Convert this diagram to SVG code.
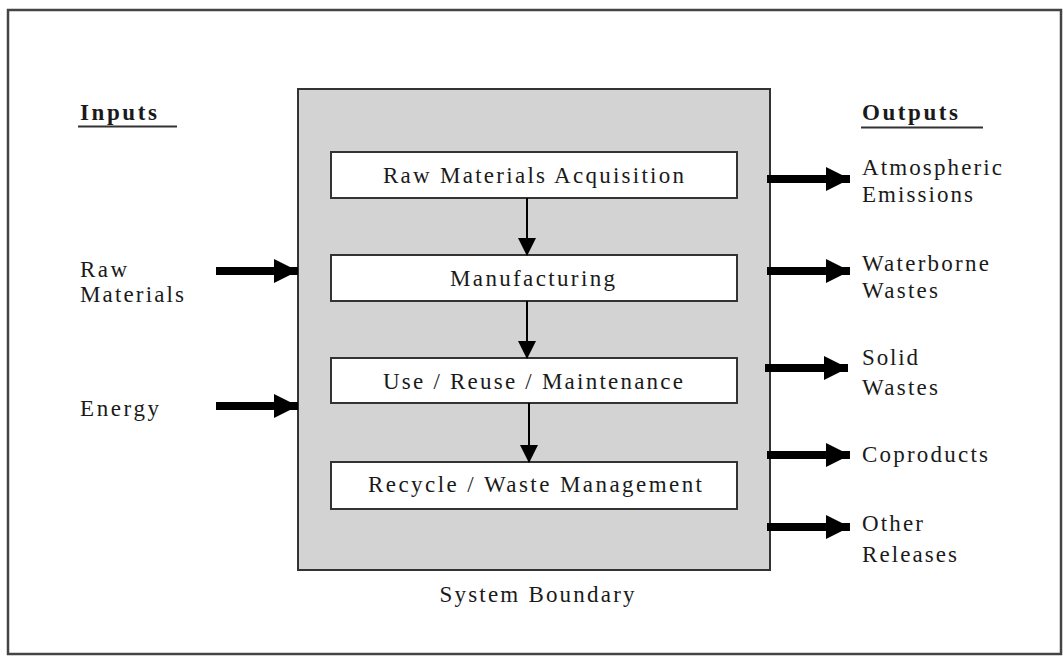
<svg xmlns="http://www.w3.org/2000/svg" width="1063" height="656" viewBox="0 0 1063 656">
<style>
text{font-family:'Liberation Serif','DejaVu Serif',serif;font-size:23px;fill:#1a1a1a}
.h{font-weight:bold}
.c{text-anchor:middle}
.box{fill:#fff;stroke:#333;stroke-width:2}
.fat{stroke:#000;stroke-width:8;fill:none}
.thin{stroke:#000;stroke-width:2;fill:none}
</style>
<defs>
<marker id="big" markerUnits="userSpaceOnUse" markerWidth="26" markerHeight="24" refX="24" refY="12" orient="auto"><path d="M0,0 L24,12 L0,24 Z" fill="#000"/></marker>
<marker id="small" markerUnits="userSpaceOnUse" markerWidth="18" markerHeight="18" refX="17" refY="9" orient="auto"><path d="M0,0 L18,9 L0,18 Z" fill="#000"/></marker>
</defs>
<rect x="0" y="0" width="1063" height="656" fill="#fff"/>
<rect x="8" y="10" width="1053" height="644" fill="none" stroke="#444" stroke-width="2.5"/>
<g id="labels-in" font-family="Liberation Serif, serif">
<text class="h" x="80" y="120" textLength="77" lengthAdjust="spacing">Inputs</text>
<line x1="78" y1="126.5" x2="177" y2="126.5" stroke="#333" stroke-width="2"/>
<text x="80" y="277" textLength="47" lengthAdjust="spacing">Raw</text>
<text x="80" y="302" textLength="104" lengthAdjust="spacing">Materials</text>
<text x="80" y="416" textLength="79" lengthAdjust="spacing">Energy</text>
</g>
<g id="labels-out" font-family="Liberation Serif, serif">
<text class="h" x="862" y="120" textLength="96" lengthAdjust="spacing">Outputs</text>
<line x1="861" y1="127.5" x2="983" y2="127.5" stroke="#333" stroke-width="2"/>
<text x="862" y="175" textLength="140" lengthAdjust="spacing">Atmospheric</text>
<text x="862" y="202" textLength="111" lengthAdjust="spacing">Emissions</text>
<text x="862" y="271" textLength="127" lengthAdjust="spacing">Waterborne</text>
<text x="862" y="298" textLength="76" lengthAdjust="spacing">Wastes</text>
<text x="862" y="365" textLength="56" lengthAdjust="spacing">Solid</text>
<text x="862" y="395" textLength="76" lengthAdjust="spacing">Wastes</text>
<text x="862" y="462" textLength="126" lengthAdjust="spacing">Coproducts</text>
<text x="862" y="531" textLength="61" lengthAdjust="spacing">Other</text>
<text x="862" y="562" textLength="95" lengthAdjust="spacing">Releases</text>
</g>
<g id="system-boundary" font-family="Liberation Serif, serif">
<rect x="298" y="89" width="472" height="481" fill="#d3d3d3" stroke="#333" stroke-width="2"/>
<text class="c" x="537" y="602" textLength="195" lengthAdjust="spacing">System Boundary</text>
</g>
<g id="raw-materials-acquisition" font-family="Liberation Serif, serif">
<rect class="box" x="331" y="152" width="406" height="46"/>
<text class="c" x="533.5" y="183" textLength="301" lengthAdjust="spacing">Raw Materials Acquisition</text>
</g>
<g id="manufacturing" font-family="Liberation Serif, serif">
<rect class="box" x="331" y="255" width="406" height="46"/>
<text class="c" x="532.5" y="286" textLength="165" lengthAdjust="spacing">Manufacturing</text>
</g>
<g id="use-reuse-maintenance" font-family="Liberation Serif, serif">
<rect class="box" x="331" y="358" width="406" height="45"/>
<text class="c" x="533" y="389" textLength="300" lengthAdjust="spacing">Use / Reuse / Maintenance</text>
</g>
<g id="recycle-waste-management" font-family="Liberation Serif, serif">
<rect class="box" x="331" y="462" width="406" height="47"/>
<text class="c" x="535" y="492" textLength="334" lengthAdjust="spacing">Recycle / Waste Management</text>
</g>
<g id="connectors">
<line class="thin" x1="527" y1="198" x2="527" y2="255" marker-end="url(#small)"/>
<line class="thin" x1="527" y1="301" x2="527" y2="358" marker-end="url(#small)"/>
<line class="thin" x1="529" y1="403" x2="529" y2="462" marker-end="url(#small)"/>
<line class="fat" x1="216" y1="271" x2="298" y2="271" marker-end="url(#big)"/>
<line class="fat" x1="216" y1="406" x2="298" y2="406" marker-end="url(#big)"/>
<line class="fat" x1="767" y1="179" x2="850" y2="179" marker-end="url(#big)"/>
<line class="fat" x1="767" y1="271" x2="850" y2="271" marker-end="url(#big)"/>
<line class="fat" x1="765" y1="368" x2="848" y2="368" marker-end="url(#big)"/>
<line class="fat" x1="767" y1="455" x2="850" y2="455" marker-end="url(#big)"/>
<line class="fat" x1="767" y1="527" x2="850" y2="527" marker-end="url(#big)"/>
</g>
</svg>
